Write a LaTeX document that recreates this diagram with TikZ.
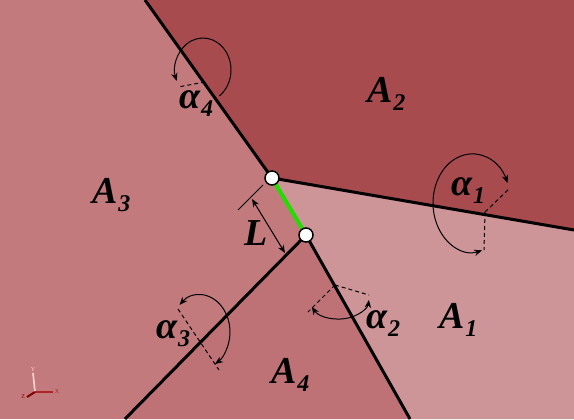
\documentclass[tikz,border=0pt]{standalone}
\usepackage{fontspec}
\setmainfont{Liberation Serif}
\usetikzlibrary{arrows.meta,calc}
\definecolor{phaseone}{HTML}{CD9597}
\definecolor{phasetwo}{HTML}{A84B4F}
\definecolor{phasethree}{HTML}{C27A7C}
\definecolor{phasefour}{HTML}{BE7275}
\definecolor{junctiongreen}{HTML}{22DD00}
\newcommand{\sublbl}[2]{\fontsize{19}{19}\selectfont\bfseries\itshape #1\kern0.3pt\raisebox{-4pt}{\fontsize{12}{12}\selectfont #2}}
\tikzset{
  interface/.style={line width=1.5pt, black},
  junction/.style={circle, draw=black, fill=white, line width=0.75pt, inner sep=0pt, minimum size=7pt},
  anglearc/.style={line width=0.5pt, black},
  anglearm/.style={line width=0.5pt, black, dash pattern=on 2pt off 1.5pt},
  lbl/.style={anchor=base west, inner sep=0pt}
}

\begin{document}
\begin{tikzpicture}[x=0.5pt, y=0.5pt, >={Stealth[length=4pt,width=3.2pt]}]
  \useasboundingbox (0,0) rectangle (574,419);
  \coordinate (p1) at (272,241);
  \coordinate (p2) at (306,184);
  \coordinate (top) at (145,419);
  \coordinate (right) at (574,189);
  \coordinate (botl) at (125,0);
  \coordinate (botr) at (410,0);
  % the four phases
  \fill[phasethree] (0,0) rectangle (574,419);
  \fill[phasetwo]  (top) -- (p1) -- (right) -- (574,419) -- cycle;
  \fill[phaseone]  (p1) -- (p2) -- (botr) -- (574,0) -- (right) -- cycle;
  \fill[phasefour] (p2) -- (botl) -- (botr) -- cycle;

  % angles
  \coordinate (c4) at (203,349);
  \draw[anglearm] (205,337) -- (178,332);
  \draw[anglearc, ->] (c4) ++(-54:28 and 32) arc[start angle=-54, end angle=200, x radius=28, y radius=32];
  \coordinate (c1) at (472,216);
  \coordinate (a1) at (485,207);
  \draw[anglearm] (a1) -- (509,230);
  \draw[anglearm] (a1) -- (484,169);
  \draw[anglearc, <->] (c1) ++(24:39 and 49) arc[start angle=24, end angle=285, x radius=39, y radius=49];
  \coordinate (c3) at (200,87);
  \draw[anglearm] (178,110) -- (219,49);
  \draw[anglearc, <->] (c3) ++(133:30 and 37) arc[start angle=133, end angle=-60, x radius=30, y radius=37];
  \coordinate (c2) at (339,121);
  \coordinate (a2) at (335,134);
  \draw[anglearm] (a2) -- (308,107);
  \draw[anglearm] (a2) -- (369,124);
  \draw[anglearc, <->] (c2) ++(205:30 and 21) arc[start angle=205, end angle=355, x radius=30, y radius=21];

  % interfaces
  \draw[interface] (top) -- (p1) -- (right);
  \draw[interface] (botl) -- (p2) -- (botr);
  \draw[junctiongreen, line width=2pt] (p1) -- (p2);
  \node[junction] (j1) at (p1) {};
  \node[junction] (j2) at (p2) {};

  % length of the junction
  \coordinate (l1) at (252,220);
  \coordinate (l2) at (285,166);
  \draw[anglearc] (238,209) -- (263,234);
  \draw[anglearc, <->] (l1) -- (l2);

  % labels
  \node[lbl] (phase2) at (367,317) {\sublbl{A}{2}};
  \node[lbl] (phase3) at (92,216) {\sublbl{A}{3}};
  \node[lbl] (phase1) at (439,91) {\sublbl{A}{1}};
  \node[lbl] (phase4) at (271,36) {\sublbl{A}{4}};
  \node[lbl] (ang4) at (179,311) {\sublbl{α}{4}};
  \node[lbl] (ang1) at (451,224) {\sublbl{α}{1}};
  \node[lbl] (ang3) at (156,81) {\sublbl{α}{3}};
  \node[lbl] (ang2) at (366,91) {\sublbl{α}{2}};
  \node[lbl] (len) at (244,174) {\fontsize{19}{19}\selectfont\bfseries\itshape L};

  % axis triad
  \coordinate (ax) at (35,27);
  \draw[line width=0.8pt, pink!70!white] (ax) -- (33,46) node[above, inner sep=0.5pt, font=\fontsize{3}{3}\selectfont] (ylab) {Y};
  \draw[line width=0.8pt, red!60!black!80!pink] (ax) -- (53,27) node[right, inner sep=0.5pt, font=\fontsize{3}{3}\selectfont] (xlab) {X};
  \draw[line width=1pt, red!50!black] (ax) -- (27,22) node[left, inner sep=0.5pt, font=\fontsize{3}{3}\selectfont] (zlab) {Z};
\end{tikzpicture}
\end{document}
